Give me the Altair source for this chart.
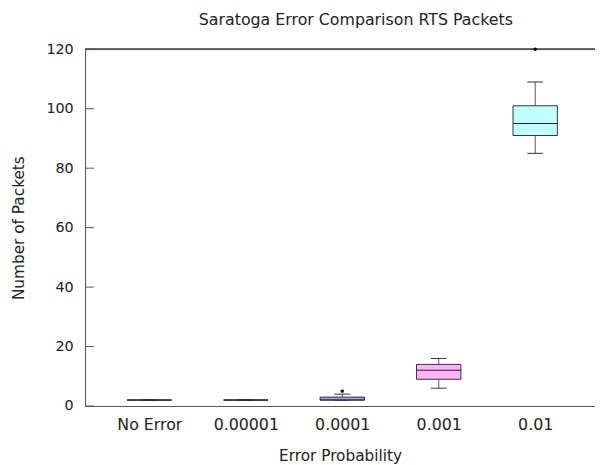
import altair as alt
import pandas as pd

categories = ["No Error", "0.00001", "0.0001", "0.001", "0.01"]
positions = [1, 2, 3, 4, 5]
mins = [2, 2, 2, 6, 85]
q1s = [2, 2, 2, 9, 91]
medians = [2, 2, 2, 12, 95]
q3s = [2, 2, 3, 14, 101]
maxs = [2, 2, 4, 16, 109]
fills = ["#ffffff", "#ffffff", "#a0a0ff", "#ffb3ff", "#c0ffff"]
outlier_pos = [3, 5]
outlier_vals = [5, 120]
y_ticks = [0, 20, 40, 60, 80, 100, 120]

df = pd.DataFrame({"cat": categories, "pos": positions, "lo": mins, "q1": q1s,
                   "med": medians, "q3": q3s, "hi": maxs, "fill": fills})
out = pd.DataFrame({"pos": outlier_pos, "val": outlier_vals})
ticks = pd.DataFrame({"t": y_ticks})

W, H = 516, 361
FONT = "DejaVu Sans"
half = 0.23

label_expr = "{1:'No Error',2:'0.00001',3:'0.0001',4:'0.001',5:'0.01'}[datum.value]"
xscale = alt.Scale(domain=[0.334, 5.62], nice=False, zero=False)
yscale = alt.Scale(domain=[0, 120], nice=False)

xaxis = alt.Axis(values=positions, labelExpr=label_expr, title="Error Probability",
                 grid=False, ticks=False, domainColor="#555555", labelFontSize=16,
                 titleFontSize=15.5, labelPadding=11, titlePadding=16, labelFont=FONT,
                 titleFont=FONT, labelColor="#222222", titleColor="#222222",
                 titleFontWeight="normal")
yaxis = alt.Axis(values=y_ticks, title="Number of Packets", grid=False, ticks=False,
                 domainColor="#555555", labelFontSize=14.5, titleFontSize=15.5,
                 labelPadding=12, titlePadding=20, labelFont=FONT, titleFont=FONT,
                 labelColor="#222222", titleColor="#222222", titleFontWeight="normal")

base = alt.Chart(df)

whisk = base.mark_rule(color="#555555", strokeWidth=1).encode(
    x=alt.X("pos:Q", scale=xscale, axis=xaxis),
    y=alt.Y("lo:Q", scale=yscale, axis=yaxis),
    y2="hi:Q",
)
caps_hi = base.mark_tick(orient="horizontal", size=16, thickness=1, color="#333333",
                         opacity=1).encode(x="pos:Q", y="hi:Q")
caps_lo = base.mark_tick(orient="horizontal", size=16, thickness=1, color="#333333",
                         opacity=1).encode(x="pos:Q", y="lo:Q")
box = base.transform_calculate(xl=f"datum.pos - {half}", xr=f"datum.pos + {half}").mark_rect(
    stroke="#333333", strokeWidth=1).encode(
    x="xl:Q", x2="xr:Q", y="q1:Q", y2="q3:Q",
    fill=alt.Fill("fill:N", scale=None))
med = base.mark_tick(orient="horizontal", size=45, thickness=1, color="#222222",
                     opacity=1).encode(x="pos:Q", y="med:Q")
pts = alt.Chart(out).mark_point(filled=True, size=12, color="black", opacity=1).encode(
    x="pos:Q", y="val:Q")
yt = alt.Chart(ticks).mark_rule(color="#555555").encode(
    x=alt.value(0), x2=alt.value(9), y="t:Q")
top = alt.Chart(ticks).mark_rule(color="#555555").encode(
    x=alt.value(0), x2=alt.value(W), y=alt.value(0))

chart = alt.layer(whisk, caps_lo, caps_hi, box, med, yt, top, pts).properties(
    width=W, height=H,
    title=alt.TitleParams("Saratoga Error Comparison RTS Packets", font=FONT, fontSize=16,
                          fontWeight="normal", color="#222222", anchor="middle", dx=16,
                          offset=14),
    autosize=alt.AutoSizeParams(type="none"),
    padding={"left": 78, "top": 39, "right": 0, "bottom": 64},
).configure_view(stroke=None).configure(background="white")

chart.save("out.html", embed_options={"renderer": "svg", "actions": False})
